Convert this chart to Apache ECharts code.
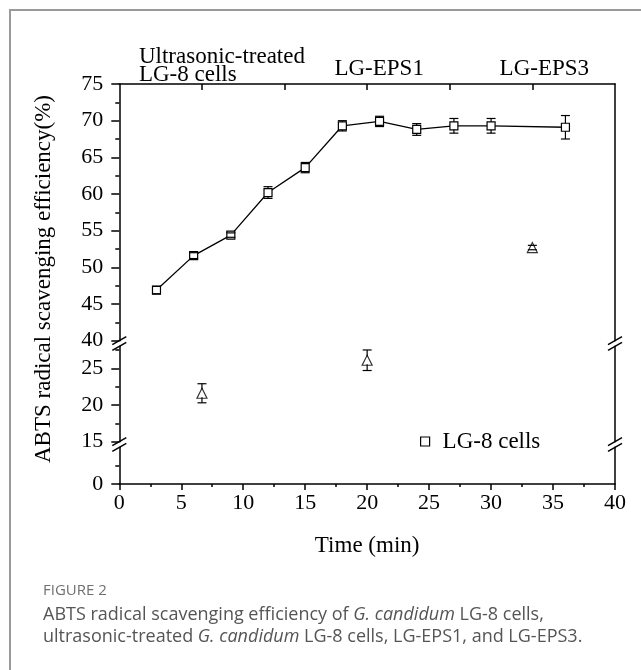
<!DOCTYPE html>
<html>
<head>
<meta charset="utf-8">
<script src="https://cdn.jsdelivr.net/npm/echarts@6/dist/echarts.min.js"></script>
<style>
  html, body { margin: 0; padding: 0; background: #fff; }
  #chart { width: 641px; height: 670px; }
</style>
</head>
<body>
<div id="chart"></div>
<script>
// LG-8 cells (squares, joined by a line)
const timeMin = [3, 6, 9, 12, 15, 18, 21, 24, 27, 30, 36]
const cellsRate = [46.9, 51.6, 54.4, 60.2, 63.6, 69.3, 69.9, 68.8, 69.3, 69.3, 69.1]
const cellsErr = [0.5, 0.4, 0.3, 0.8, 0.7, 0.7, 0.7, 0.8, 1.0, 1.0, 1.6]

// ultrasonic-treated cells / EPS (triangles), named on the top axis
const sampleNames = ['Ultrasonic-treated\nLG-8 cells', 'LG-EPS1', 'LG-EPS3']
const sampleX = [6.67, 20, 33.33]
const sampleRate = [21.6, 26.1, 52.7]
const sampleErr = [1.3, 1.4, 0.3]

// tick labels
const xTicks = [0, 5, 10, 15, 20, 25, 30, 35, 40]
const yTicksTop = [40, 45, 50, 55, 60, 65, 70, 75]
const yMinorTop = [42.5, 47.5, 52.5, 57.5, 62.5, 67.5, 72.5]
const yTicksMid = [15, 20, 25]
const yMinorMid = [17.5, 22.5, 27.5]
const yTicksLow = [0]
const yMinorLow = [2.5]

const SERIF = '"Liberation Serif", "Times New Roman", serif'
const SANS = '"Open Sans", Lato, sans-serif'
const BLACK = '#000'
const axisLineStyle = { color: BLACK, width: 1.5 }

// broken y axis: three stacked grids
const segments = [
  { min: 40, max: 75, top: 84, height: 256.7, ticks: yTicksTop, minor: yMinorTop },
  { min: 15, max: 28, top: 346.3, height: 95.4, ticks: yTicksMid, minor: yMinorMid },
  { min: 0, max: 5, top: 447.3, height: 36.7, ticks: yTicksLow, minor: yMinorLow }
]
const segIndex = v => segments.findIndex(s => v >= s.min && v <= s.max)

const grid = segments.map(s => ({ left: 119.3, right: 26, top: s.top, height: s.height }))

const yAxis = []
segments.forEach((s, i) => {
  yAxis.push({
    gridIndex: i, type: 'value', min: s.min, max: s.max, position: 'left',
    axisLine: { show: true, lineStyle: axisLineStyle },
    axisTick: { show: true, length: 8, customValues: s.ticks, lineStyle: axisLineStyle },
    axisLabel: { customValues: s.ticks, margin: 16, fontSize: 22, fontFamily: SERIF, color: BLACK },
    splitLine: { show: false }
  })
  yAxis.push({
    gridIndex: i, type: 'value', min: s.min, max: s.max, position: 'left',
    axisLine: { show: false },
    axisTick: { show: true, length: 4, customValues: s.minor, lineStyle: axisLineStyle },
    axisLabel: { show: false },
    splitLine: { show: false }
  })
  yAxis.push({
    gridIndex: i, type: 'value', min: s.min, max: s.max, position: 'right',
    axisLine: { show: true, lineStyle: axisLineStyle },
    axisTick: { show: false },
    axisLabel: { show: false },
    splitLine: { show: false }
  })
})

// top axis ticks: at each sample and halfway between
const topTicks = []
sampleX.forEach((v, i) => {
  if (i > 0) topTicks.push((sampleX[i - 1] + v) / 2)
  topTicks.push(v)
})

const xAxis = [
  {
    gridIndex: 0, type: 'value', min: 0, max: 40, position: 'top',
    axisLine: { show: true, onZero: false, lineStyle: axisLineStyle },
    axisTick: { show: true, inside: true, length: 6, customValues: topTicks, lineStyle: axisLineStyle },
    axisLabel: {
      customValues: sampleX,
      margin: 0,
      formatter: v => {
        const i = sampleX.findIndex(s => Math.abs(s - v) < 0.01)
        if (i === 0) return sampleNames[0].split('\n').map(t => '{u|' + t + '}').join('\n')
        return '{e|' + sampleNames[i] + '}'
      },
      rich: {
        u: { fontSize: 23, fontFamily: SERIF, color: BLACK, lineHeight: 18, align: 'left', padding: [0, 0, 0, 40] },
        e: { fontSize: 23, fontFamily: SERIF, color: BLACK, lineHeight: 18, padding: [0, 0, 12, 24] }
      }
    },
    splitLine: { show: false }
  },
  { gridIndex: 1, type: 'value', min: 0, max: 40, show: false },
  {
    gridIndex: 2, type: 'value', min: 0, max: 40, interval: 5, position: 'bottom',
    name: 'Time (min)', nameLocation: 'middle', nameGap: 50,
    nameTextStyle: { fontSize: 23, fontFamily: SERIF, color: BLACK },
    axisLine: { show: true, onZero: false, lineStyle: axisLineStyle },
    axisTick: { show: true, length: 6, customValues: xTicks, lineStyle: axisLineStyle },
    minorTick: { show: true, splitNumber: 2, length: 3, lineStyle: axisLineStyle },
    axisLabel: { customValues: xTicks, margin: 8, fontSize: 22, fontFamily: SERIF, color: BLACK },
    splitLine: { show: false }
  }
]

// vertical error bar with caps, vertical part stops at the symbol edge
const errorBarItem = (params, api) => {
  const x = api.value(0)
  const y = api.value(1)
  const e = api.value(2)
  const c = api.coord([x, y])
  const hi = api.coord([x, y + e])
  const lo = api.coord([x, y - e])
  const w = 4.5
  const half = 4
  const style = { stroke: BLACK, lineWidth: 1.2 }
  const children = [
    { type: 'line', shape: { x1: c[0] - w, y1: hi[1], x2: c[0] + w, y2: hi[1] }, style },
    { type: 'line', shape: { x1: c[0] - w, y1: lo[1], x2: c[0] + w, y2: lo[1] }, style }
  ]
  if (c[1] - hi[1] > half) {
    children.push({ type: 'line', shape: { x1: c[0], y1: hi[1], x2: c[0], y2: c[1] - half }, style })
    children.push({ type: 'line', shape: { x1: c[0], y1: lo[1], x2: c[0], y2: c[1] + half }, style })
  }
  return { type: 'group', children }
}

const series = [
  {
    name: 'LG-8 cells',
    type: 'line',
    xAxisIndex: 0,
    yAxisIndex: 0,
    symbol: 'rect',
    symbolSize: 8,
    lineStyle: { color: BLACK, width: 1.3 },
    itemStyle: { color: '#fff', borderColor: BLACK, borderWidth: 1.2 },
    z: 3,
    data: timeMin.map((t, i) => [t, cellsRate[i]])
  },
  {
    type: 'custom',
    xAxisIndex: 0,
    yAxisIndex: 0,
    renderItem: errorBarItem,
    z: 4,
    data: timeMin.map((t, i) => [t, cellsRate[i], cellsErr[i]])
  }
]

// triangles go into whichever segment holds their value
segments.forEach((s, g) => {
  const idx = sampleX.map((x, i) => i).filter(i => segIndex(sampleRate[i]) === g)
  if (!idx.length) return
  series.push({
    name: 'samples',
    type: 'scatter',
    xAxisIndex: g,
    yAxisIndex: g * 3,
    symbol: 'triangle',
    symbolSize: 10,
    itemStyle: { color: '#fff', borderColor: BLACK, borderWidth: 1.2 },
    z: 3,
    data: idx.map(i => [sampleX[i], sampleRate[i]])
  })
  series.push({
    type: 'custom',
    xAxisIndex: g,
    yAxisIndex: g * 3,
    renderItem: errorBarItem,
    z: 4,
    data: idx.map(i => [sampleX[i], sampleRate[i], sampleErr[i]])
  })
})

const chart = echarts.init(document.getElementById('chart'))
chart.setOption({
  animation: false,
  backgroundColor: '#fff',
  grid,
  xAxis,
  yAxis,
  legend: {
    data: [{
      name: 'LG-8 cells',
      icon: 'rect',
      itemStyle: { color: '#fff', borderColor: BLACK, borderWidth: 1.2 }
    }],
    left: 420,
    top: 430,
    padding: 0,
    itemWidth: 9,
    itemHeight: 9,
    textStyle: { fontSize: 23, fontFamily: SERIF, color: BLACK, padding: [0, 0, 0, 8] }
  },
  series
})

// axis break marks "//" on both sides, caption and frame
const gfx = [
  {
    type: 'rect', silent: true, z: -1,
    shape: { x: 10, y: 10, width: 700, height: 700 },
    style: { fill: 'none', stroke: '#9a9a9a', lineWidth: 2 }
  },
  {
    type: 'text', x: 44, y: 279, rotation: Math.PI / 2,
    style: {
      text: 'ABTS radical scavenging efficiency(%)',
      fontSize: 23, fontFamily: SERIF, fill: BLACK, align: 'center', verticalAlign: 'middle'
    }
  },
  {
    type: 'text', x: 43, y: 583,
    style: { text: 'FIGURE 2', fontSize: 15, fontFamily: SANS, fill: '#707070' }
  },
  {
    type: 'text', x: 43, y: 604,
    style: {
      text: '{n|ABTS radical scavenging efficiency of }{i|G. candidum}{n| LG-8 cells,}\n' +
        '{n|ultrasonic-treated }{i|G. candidum}{n| LG-8 cells, LG-EPS1, and LG-EPS3.}',
      rich: {
        n: { fontSize: 18, fontFamily: SANS, fill: '#555', lineHeight: 22 },
        i: { fontSize: 18, fontFamily: SANS, fill: '#555', lineHeight: 22, fontStyle: 'italic' }
      }
    }
  }
]
const xl = chart.convertToPixel({ xAxisIndex: 0 }, 0)
const xr = chart.convertToPixel({ xAxisIndex: 0 }, 40)
const slash = (x, y) => ({
  type: 'line', z: 10,
  shape: { x1: x - 7, y1: y + 4, x2: x + 7, y2: y - 4 },
  style: { stroke: BLACK, lineWidth: 1.5 }
})
for (let g = 0; g < segments.length - 1; g++) {
  const yUp = chart.convertToPixel({ yAxisIndex: g * 3 }, segments[g].min)
  const yDown = chart.convertToPixel({ yAxisIndex: (g + 1) * 3 }, segments[g + 1].max)
  ;[xl, xr].forEach(x => {
    gfx.push(slash(x, yUp))
    gfx.push(slash(x, yDown))
  })
}
chart.setOption({ graphic: gfx })
</script>
</body>
</html>
